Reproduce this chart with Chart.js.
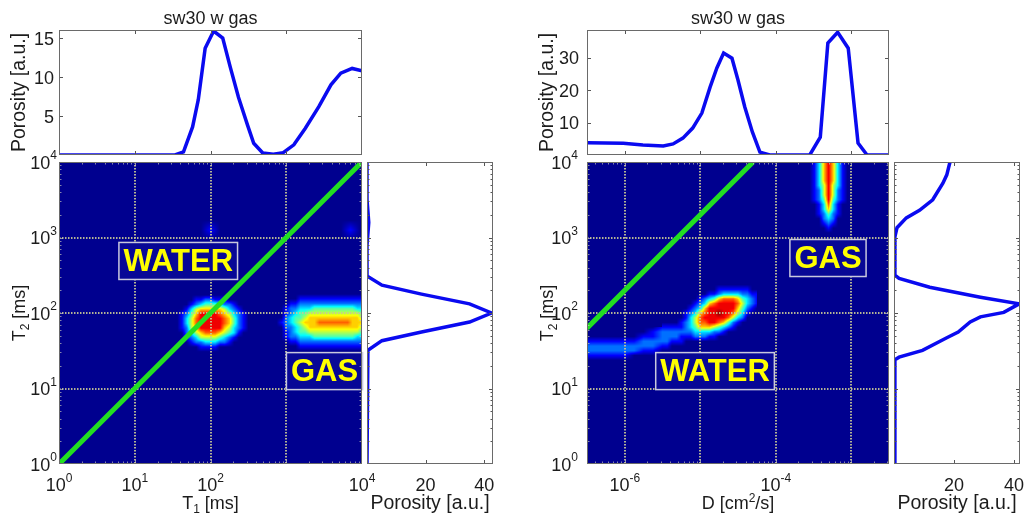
<!DOCTYPE html>
<html>
<head>
<meta charset="utf-8">
<title>sw30 w gas</title>
<script src="https://cdn.jsdelivr.net/npm/chart.js@4.4.1/dist/chart.umd.min.js"></script>
<style>
  html, body { margin: 0; padding: 0; background: #ffffff; }
  #figure { position: relative; width: 1025px; height: 520px; overflow: hidden; }
  #figure canvas { position: absolute; left: 0; top: 0; }
</style>
</head>
<body>
<div id="figure">
  <canvas id="left-top" width="1025" height="520"></canvas>
  <canvas id="left-map" width="1025" height="520"></canvas>
  <canvas id="left-side" width="1025" height="520"></canvas>
  <canvas id="right-top" width="1025" height="520"></canvas>
  <canvas id="right-map" width="1025" height="520"></canvas>
  <canvas id="right-side" width="1025" height="520"></canvas>
</div>
<script>
// sw30 w gas - T1-T2 and D-T2 maps with their projections

// ---- values ----
const t1TickLabels = [1, 10, 100, 10000];          // 10^3 has no label in the figure
const t2TickLabels = [1, 10, 100, 1000, 10000];
const tDecades = [10, 100, 1000];
const dDecades = [1e-6, 1e-5, 1e-4, 1e-3];
const dTickLabels = [1e-6, 1e-4];
const t1PorosityTicks = [5, 10, 15];
const dPorosityTicks = [10, 20, 30];
const t2PorosityTicks = [20, 40];

// T1 projection (left, top)
const t1Proj = [1, 34, 44, 58, 69, 85, 110, 145, 182, 234, 309, 372, 490, 676, 912, 1259, 1778, 2692, 3890, 5248, 7413, 10000];
const t1ProjPorosity = [0, 0, 0.4, 3.6, 7.1, 13.7, 15.9, 15.0, 11.3, 7.4, 3.8, 1.5, 0.25, 0.1, 0.3, 1.3, 3.4, 6.2, 9.0, 10.5, 11.1, 10.8];

// T2 projection of the T1-T2 map (left, side)
const t2ProjA = [10000, 3162, 1585, 794, 309, 234, 178, 132, 100, 76, 56, 43, 32, 1];
const t2ProjAPorosity = [0, 0, 0.6, 0, 0, 5.1, 18.6, 35, 42.5, 35, 18.6, 5.1, 0.3, 0];

// D projection (right, top)
const dProj = [3.16e-7, 9.55e-7, 1.74e-6, 3.24e-6, 4.37e-6, 5.89e-6, 7.94e-6, 1.05e-5, 1.35e-5, 1.66e-5, 2.04e-5, 2.63e-5, 3.16e-5, 3.89e-5, 4.9e-5, 6.17e-5, 8.32e-5, 2.82e-4, 3.89e-4, 4.9e-4, 6.61e-4, 9.12e-4, 1.23e-3, 1.62e-3, 3.16e-3];
const dProjPorosity = [3.8, 3.6, 3.1, 2.8, 3.4, 5.2, 8.3, 12.9, 20.9, 26.8, 31.4, 29.8, 23.1, 14.8, 7.1, 0.9, 0, 0, 5.5, 34.5, 37.8, 32.9, 3.7, 0, 0];

// T2 projection of the D-T2 map (right, side)
const t2ProjB = [10000, 9772, 6761, 5248, 3162, 2291, 1820, 1349, 1023, 316, 288, 219, 162, 132, 102, 89, 76, 56, 47, 32, 26, 24, 1];
const t2ProjBPorosity = [18.8, 18.6, 17.6, 16.3, 12.9, 8.5, 4.1, 1.0, 0.3, 0.3, 1.7, 11.9, 28.8, 41.7, 36.6, 28.8, 25.4, 21.4, 17.6, 9.5, 1.7, 0.3, 0.3];

// T1 = T2 line, and the bulk water diffusion line
const t1t2Line = [1, 10000];
const waterLineD = [3.16e-7, 5.0e-5];
const waterLineT2 = [63, 10000];

// map amplitudes 0-9 at grid nodes; rows run from high T2 to low T2.
// x0 / y0 are log10 of the first node, dx / dy the log10 step.
const leftWaterCells = { x0: 1.5, y0: 2.3, dx: 0.0625, dy: 0.0625, rows: [
  "00000000000000000",
  "00000000000000000",
  "00000112211100000",
  "00001234443221000",
  "00013566666532100",
  "00124688887653210",
  "00135788888764210",
  "00135788888764210",
  "00125688888653210",
  "00023567776543100",
  "00012355554321000",
  "00001223332210000",
  "00000011110000000",
  "00000000000000000"
]};
const leftGasCells = { x0: 2.875, y0: 2.25, dx: 0.0625, dy: 0.0625, rows: [
  "0000000000000000000",
  "0000011111111111111",
  "0001122222222222222",
  "0012233344444444433",
  "0012344555555555554",
  "0023445666666666665",
  "0123456667777777666",
  "0022345666666666665",
  "0012344555555555554",
  "0012233344444444433",
  "0001122222222222222",
  "0000011111111111111",
  "0000000000000000000"
]};
const leftFaintCells = [
  { x0: 1.875, y0: 3.225, dx: 0.125, dy: 0.125, rows: ["000", "010", "000"] },
  { x0: 3.725, y0: 3.225, dx: 0.125, dy: 0.125, rows: ["000", "010", "000"] }
];
const rightWaterCells = { x0: -5.5, y0: 2.375, dx: 0.0625, dy: 0.0625, rows: [
  "000000000000000000000",
  "000000000000111111100",
  "000000000011233332211",
  "000000001234677764321",
  "000000012367888875321",
  "000000123688888864210",
  "000001236788988753100",
  "000001357888887532000",
  "000012357788764210000",
  "111112346665432100000",
  "222222233332210000000",
  "222211122211000000000",
  "221110000000000000000",
  "110000000000000000000",
  "000000000000000000000"
]};
const rightTailCells = { x0: -6.5, y0: 1.8125, dx: 0.125, dy: 0.0625, rows: [
  "000000001",
  "000000012",
  "000000112",
  "111111222",
  "222222221",
  "222222110",
  "111110000",
  "000000000"
]};
const rightGasCells = { x0: -3.55, y0: 4.0, dx: 0.0625, dy: 0.0625, rows: [
  "013686310",
  "013686310",
  "013686310",
  "013686310",
  "013686310",
  "013585310",
  "012585210",
  "012585210",
  "012484210",
  "001373100",
  "001363100",
  "001242100",
  "000232000",
  "000121000",
  "000010000",
  "000000000"
]};

const leftTags = [{ text: 'WATER', x: 37.5, y: 489 }, { text: 'GAS', x: 3200, y: 17 }];
const rightTags = [{ text: 'GAS', x: 4.92e-4, y: 535 }, { text: 'WATER', x: 1.57e-5, y: 17 }];

// ---- page layout ----
const W = 1025, H = 520;
const FONT = '"Liberation Sans", Arial, Helvetica, sans-serif';
const areas = {
  leftTop:   { l: 59,  t: 30,  r: 362,  b: 155 },
  leftMap:   { l: 59,  t: 162, r: 362,  b: 464 },
  leftSide:  { l: 367, t: 162, r: 493,  b: 464 },
  rightTop:  { l: 587, t: 30,  r: 889,  b: 155 },
  rightMap:  { l: 587, t: 162, r: 889,  b: 464 },
  rightSide: { l: 894, t: 162, r: 1020, b: 464 }
};
const heatCells = {
  left: [leftWaterCells, leftGasCells, ...leftFaintCells],
  right: [rightWaterCells, rightTailCells, rightGasCells]
};

const blue = 'rgb(10,10,240)';
const green = 'rgb(34,222,34)';
const gridColor = 'rgba(200,200,150,0.9)';

const porosityTitle = [['Porosity [a.u.]', 19.5, 0]];
const t1Title = [['T', 18, 0], ['1', 12, 4], [' [ms]', 18, 0]];
const t2Title = [['T', 18, 0], ['2', 12, 4], [' [ms]', 18, 0]];
const dTitle = [['D [cm', 18, 0], ['2', 12, -7], ['/s]', 18, 0]];

Chart.defaults.font.family = FONT;

// MATLAB style jet colormap, t in 0..1
function jet(t) {
  const s = (t * 63 + 1) / 64 * 4;
  const c = v => Math.round(255 * Math.min(1, Math.max(0, v)));
  return [c(1.5 - Math.abs(s - 3)), c(1.5 - Math.abs(s - 2)), c(1.5 - Math.abs(s - 1))];
}

function sampleCells(p, lx, ly) {
  const g = p.grid, nr = g.length, nc = g[0].length;
  const fx = (lx - p.x0) / p.dx, fy = (p.y0 - ly) / p.dy;
  if (fx < 0 || fy < 0 || fx > nc - 1 || fy > nr - 1) return 0;
  const i = Math.min(Math.floor(fx), nc - 2), j = Math.min(Math.floor(fy), nr - 2);
  const u = fx - i, v = fy - j;
  return g[j][i] * (1 - u) * (1 - v) + g[j][i + 1] * u * (1 - v) +
         g[j + 1][i] * (1 - u) * v + g[j + 1][i + 1] * u * v;
}

// shaded map under the grid lines
const heatmapPlugin = {
  id: 'heatmap',
  beforeDraw(chart, args, opts) {
    if (!opts.source) return;
    const { ctx, chartArea: a, scales } = chart;
    const cells = heatCells[opts.source].map(p => ({ ...p, grid: p.rows.map(r => Array.from(r, Number)) }));
    const w = Math.round(a.right - a.left), h = Math.round(a.bottom - a.top);
    const off = document.createElement('canvas');
    off.width = w; off.height = h;
    const octx = off.getContext('2d');
    const img = octx.createImageData(w, h);
    const lx = [], ly = [];
    for (let i = 0; i < w; i++) lx.push(Math.log10(scales.x.getValueForPixel(a.left + i + 0.5)));
    for (let j = 0; j < h; j++) ly.push(Math.log10(scales.y.getValueForPixel(a.top + j + 0.5)));
    let k = 0;
    for (let j = 0; j < h; j++) {
      for (let i = 0; i < w; i++) {
        let v = 0;
        for (const c of cells) v = Math.max(v, sampleCells(c, lx[i], ly[j]));
        const rgb = jet(v / 9);
        img.data[k++] = rgb[0]; img.data[k++] = rgb[1]; img.data[k++] = rgb[2]; img.data[k++] = 255;
      }
    }
    octx.putImageData(img, 0, 0);
    ctx.drawImage(off, a.left, a.top);
  }
};

// WATER / GAS boxes
const tagPlugin = {
  id: 'tags',
  afterDatasetsDraw(chart, args, opts) {
    if (!opts.items) return;
    const { ctx, scales: { x, y } } = chart;
    ctx.save();
    ctx.font = 'bold 31px ' + FONT;
    ctx.textAlign = 'center';
    ctx.textBaseline = 'middle';
    for (const t of opts.items) {
      const cx = x.getPixelForValue(t.x), cy = y.getPixelForValue(t.y);
      const w = ctx.measureText(t.text).width + 9, h = 37;
      ctx.fillStyle = 'rgb(8,8,150)';
      ctx.fillRect(cx - w / 2, cy - h / 2, w, h);
      ctx.strokeStyle = 'rgb(200,200,222)';
      ctx.lineWidth = 1.5;
      ctx.strokeRect(cx - w / 2, cy - h / 2, w, h);
      ctx.fillStyle = '#ffff00';
      ctx.fillText(t.text, cx, cy + 1);
    }
    ctx.restore();
  }
};

// text made of parts [text, size, baseline shift]
function drawRich(ctx, parts, x, y, align) {
  let total = 0;
  for (const [t, s] of parts) { ctx.font = s + 'px ' + FONT; total += ctx.measureText(t).width; }
  let cx = align === 'center' ? x - total / 2 : align === 'right' ? x - total : x;
  for (const [t, s, dy] of parts) {
    ctx.font = s + 'px ' + FONT;
    ctx.fillText(t, cx, y + dy);
    cx += ctx.measureText(t).width;
  }
}

function labelParts(v, pow) {
  if (pow) return [['10', 18, 0], [String(Math.round(Math.log10(v))), 12, -9.5]];
  return [[String(v), 18, 0]];
}

// box, inward ticks, tick labels and axis titles
const decorPlugin = {
  id: 'decor',
  afterDraw(chart, args, o) {
    const { ctx, chartArea: a, scales: { x, y } } = chart;
    ctx.save();
    ctx.lineWidth = 1;
    const mark = (list, len, horizontal) => {
      ctx.beginPath();
      for (const v of list || []) {
        if (horizontal) {
          const px = Math.round(x.getPixelForValue(v)) + 0.5;
          ctx.moveTo(px, a.bottom); ctx.lineTo(px, a.bottom - len);
          ctx.moveTo(px, a.top); ctx.lineTo(px, a.top + len);
        } else {
          const py = Math.round(y.getPixelForValue(v)) + 0.5;
          ctx.moveTo(a.left, py); ctx.lineTo(a.left + len, py);
          ctx.moveTo(a.right, py); ctx.lineTo(a.right - len, py);
        }
      }
      ctx.stroke();
    };
    ctx.strokeStyle = o.tickColor || '#555555';
    mark(o.xTicks, 4, true);
    mark(o.xMinor, 2.5, true);
    mark(o.yTicks, 4, false);
    mark(o.yMinor, 2.5, false);

    ctx.strokeStyle = '#6a6a6a';
    ctx.strokeRect(a.left + 0.5, a.top + 0.5, a.right - a.left - 1, a.bottom - a.top - 1);

    ctx.fillStyle = '#1c1c1c';
    ctx.textAlign = 'left';
    ctx.textBaseline = 'alphabetic';
    for (const v of o.xLabels || []) {
      drawRich(ctx, labelParts(v, o.xPow), x.getPixelForValue(v), a.bottom + 27, 'center');
    }
    for (const v of o.yLabels || []) {
      drawRich(ctx, labelParts(v, o.yPow), a.left - o.yGap, y.getPixelForValue(v) + 6.5, 'right');
    }
    if (o.title) drawRich(ctx, [[o.title, 18, 0]], (a.left + a.right) / 2, a.top - 6, 'center');
    if (o.xTitle) drawRich(ctx, o.xTitle, (a.left + a.right) / 2, a.bottom + 45, 'center');
    if (o.yTitle) {
      ctx.save();
      ctx.translate(a.left - 34, (a.top + a.bottom) / 2);
      ctx.rotate(-Math.PI / 2);
      drawRich(ctx, o.yTitle, 0, 0, 'center');
      ctx.restore();
    }
    ctx.restore();
  }
};

Chart.register(heatmapPlugin, tagPlugin, decorPlugin);

function minorTicks(min, max) {
  const out = [];
  for (let d = Math.floor(Math.log10(min)); d <= Math.ceil(Math.log10(max)); d++) {
    for (let m = 2; m <= 9; m++) {
      const v = m * Math.pow(10, d);
      if (v > min && v < max) out.push(v);
    }
  }
  return out;
}

function logAxis(min, max, gridAt) {
  const axis = {
    type: 'logarithmic', min, max, bounds: 'data',
    ticks: { display: false },
    grid: { display: !!gridAt, color: gridColor, lineWidth: 2, drawTicks: false },
    border: { display: false, dash: [1.5, 1.5] }
  };
  if (gridAt) axis.afterBuildTicks = s => { s.ticks = gridAt.map(v => ({ value: v })); };
  return axis;
}

function linAxis(min, max) {
  return {
    type: 'linear', min, max, bounds: 'data',
    ticks: { display: false },
    grid: { display: false, drawTicks: false },
    border: { display: false }
  };
}

function baseOptions(area, scales, plugins) {
  return {
    responsive: false,
    animation: false,
    events: [],
    layout: { autoPadding: false, padding: { left: area.l, top: area.t, right: W - area.r, bottom: H - area.b } },
    scales,
    plugins: Object.assign({ legend: { display: false }, tooltip: { enabled: false } }, plugins)
  };
}

function curve(xs, ys, color, width, clip) {
  const ds = {
    data: xs.map((v, i) => ({ x: v, y: ys[i] })),
    showLine: true, borderColor: color, borderWidth: width,
    pointRadius: 0, tension: 0
  };
  if (clip !== undefined) ds.clip = clip;
  return ds;
}

const el = id => document.getElementById(id);
const dMin = 3.1623e-7, dMax = 3.1623e-3;

// left: T1 projection
new Chart(el('left-top'), {
  type: 'scatter',
  data: { datasets: [curve(t1Proj, t1ProjPorosity, blue, 3.5)] },
  options: baseOptions(areas.leftTop,
    { x: logAxis(1, 10000), y: linAxis(0, 16.03) },
    { decor: { xTicks: tDecades, yTicks: t1PorosityTicks, yLabels: t1PorosityTicks, yGap: 5,
               title: 'sw30 w gas', yTitle: porosityTitle } })
});

// left: T1-T2 map
new Chart(el('left-map'), {
  type: 'scatter',
  data: { datasets: [curve(t1t2Line, t1t2Line, green, 5, 0)] },
  options: baseOptions(areas.leftMap,
    { x: logAxis(1, 10000, tDecades), y: logAxis(1, 10000, tDecades) },
    { heatmap: { source: 'left' },
      tags: { items: leftTags },
      decor: { tickColor: 'rgba(190,190,190,0.7)',
               xTicks: tDecades, xMinor: minorTicks(1, 10000), yTicks: tDecades, yMinor: minorTicks(1, 10000),
               xLabels: t1TickLabels, xPow: true, yLabels: t2TickLabels, yPow: true, yGap: 2,
               xTitle: t1Title, yTitle: t2Title } })
});

// left: T2 projection
new Chart(el('left-side'), {
  type: 'scatter',
  data: { datasets: [curve(t2ProjAPorosity, t2ProjA, blue, 3.5)] },
  options: baseOptions(areas.leftSide,
    { x: linAxis(0, 43), y: logAxis(1, 10000) },
    { decor: { xTicks: t2PorosityTicks, yTicks: tDecades, yMinor: minorTicks(1, 10000),
               xLabels: t2PorosityTicks, xTitle: porosityTitle } })
});

// right: D projection
new Chart(el('right-top'), {
  type: 'scatter',
  data: { datasets: [curve(dProj, dProjPorosity, blue, 3.5)] },
  options: baseOptions(areas.rightTop,
    { x: logAxis(dMin, dMax), y: linAxis(0, 38.5) },
    { decor: { xTicks: dDecades, yTicks: dPorosityTicks, yLabels: dPorosityTicks, yGap: 8,
               title: 'sw30 w gas', yTitle: porosityTitle } })
});

// right: D-T2 map
new Chart(el('right-map'), {
  type: 'scatter',
  data: { datasets: [curve(waterLineD, waterLineT2, green, 5, 0)] },
  options: baseOptions(areas.rightMap,
    { x: logAxis(dMin, dMax, dDecades), y: logAxis(1, 10000, tDecades) },
    { heatmap: { source: 'right' },
      tags: { items: rightTags },
      decor: { tickColor: 'rgba(190,190,190,0.7)',
               xTicks: dDecades, xMinor: minorTicks(dMin, dMax), yTicks: tDecades, yMinor: minorTicks(1, 10000),
               xLabels: dTickLabels, xPow: true, yLabels: t2TickLabels, yPow: true, yGap: 9,
               xTitle: dTitle, yTitle: t2Title } })
});

// right: T2 projection
new Chart(el('right-side'), {
  type: 'scatter',
  data: { datasets: [curve(t2ProjBPorosity, t2ProjB, blue, 3.5)] },
  options: baseOptions(areas.rightSide,
    { x: linAxis(0, 42), y: logAxis(1, 10000) },
    { decor: { xTicks: t2PorosityTicks, yTicks: tDecades, yMinor: minorTicks(1, 10000),
               xLabels: t2PorosityTicks, xTitle: porosityTitle } })
});
</script>
</body>
</html>
